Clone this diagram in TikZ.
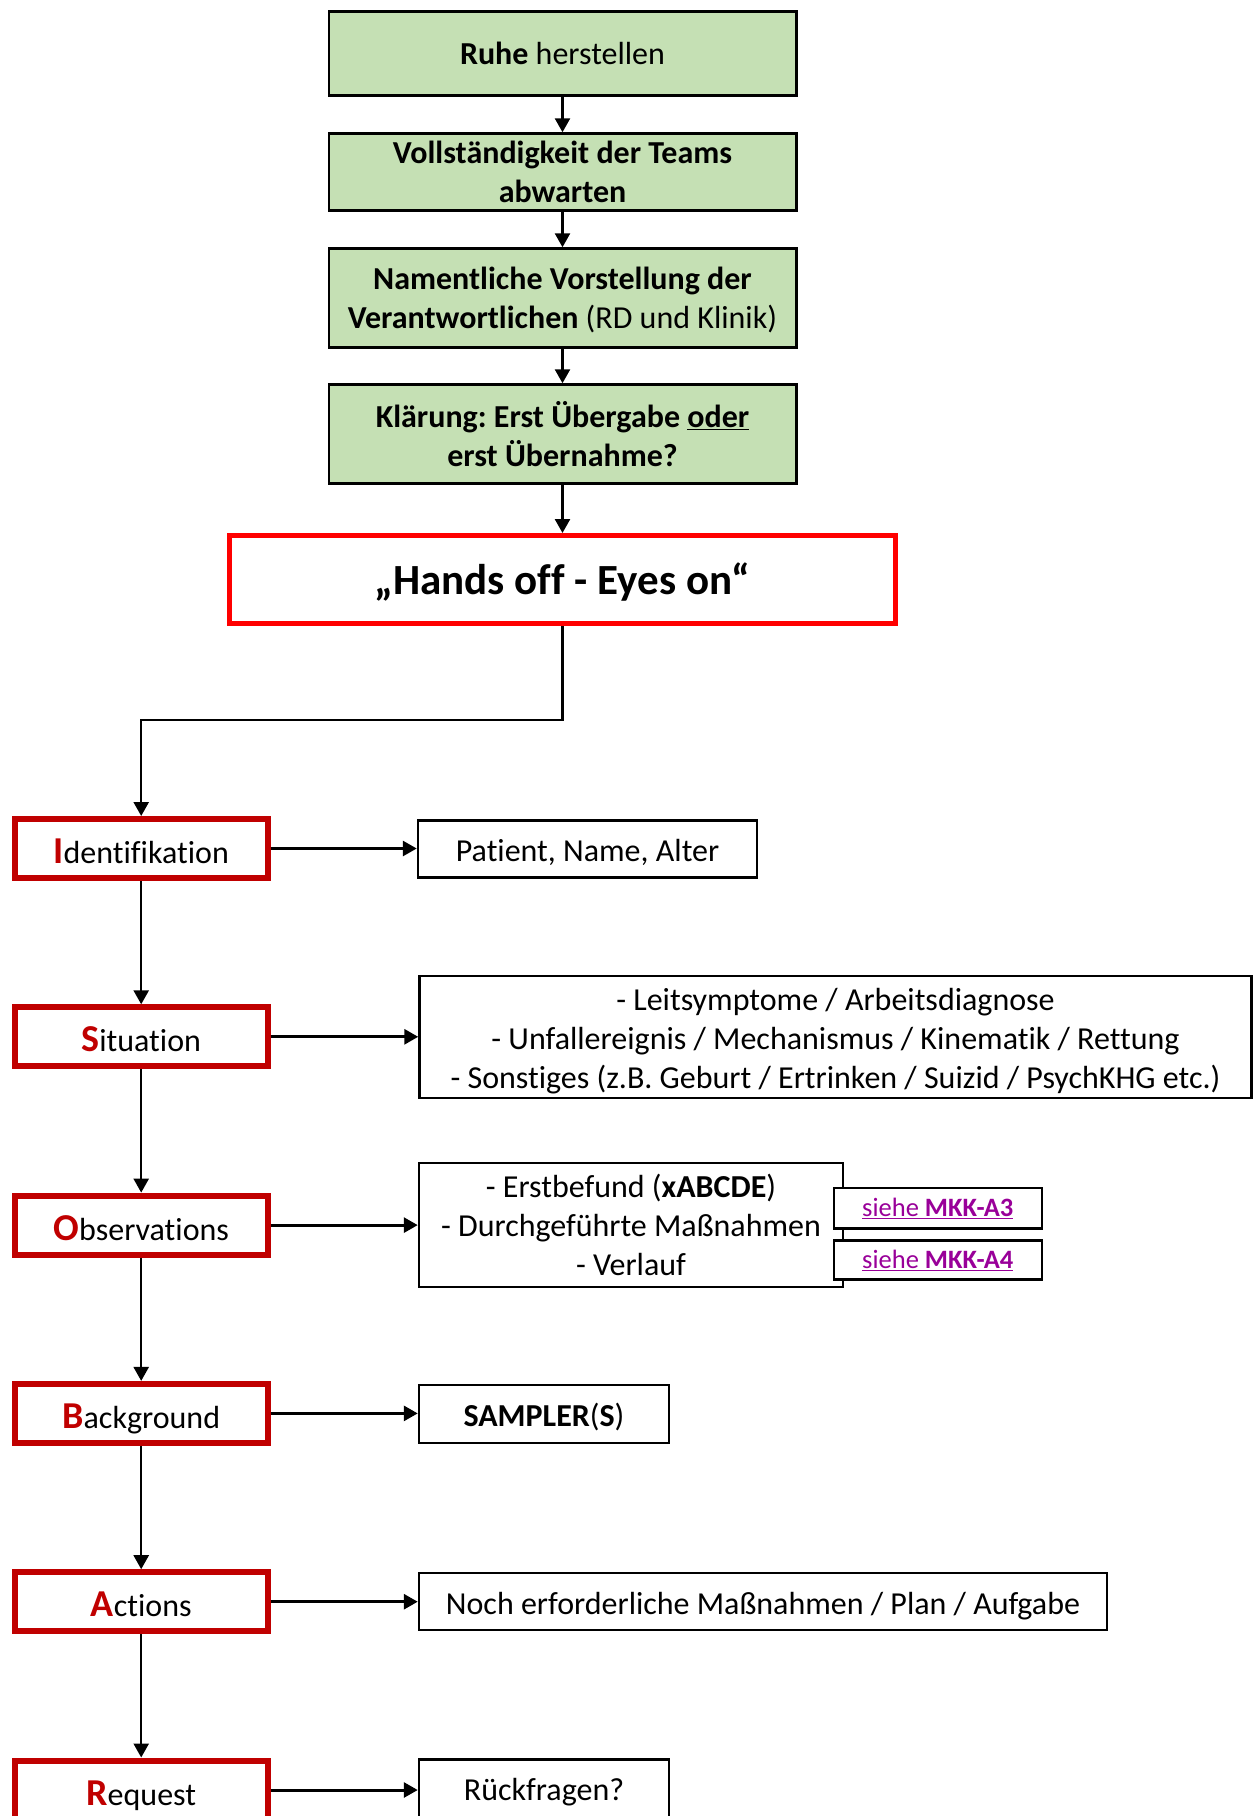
\documentclass[tikz,border=0pt]{standalone}
\usepackage{fontspec}
\setmainfont{Carlito}[Ligatures={NoCommon}]
\usetikzlibrary{arrows.meta}
\definecolor{boxgreen}{HTML}{C5E0B4}
\definecolor{sbarred}{HTML}{C00000}
\definecolor{hored}{HTML}{FF0000}
\definecolor{linkpurple}{HTML}{990099}
\newcommand{\firstletter}[1]{{\fontsize{38}{40}\selectfont\bfseries\color{sbarred}#1}}
\begin{document}
\frenchspacing
\begin{tikzpicture}[x=1pt,y=-1pt,
  font=\fontsize{32}{39}\selectfont,
  greenbox/.style={draw=black, line width=2.5pt, fill=boxgreen, minimum width=467.5pt, inner sep=0pt, align=center},
  handsbox/.style={draw=hored, line width=5pt, fill=white, minimum width=666pt, minimum height=88pt, inner sep=0pt, text height=30pt, text depth=0pt, font=\fontsize{43}{48}\selectfont\bfseries},
  sbarbox/.style={draw=sbarred, line width=6pt, fill=white, minimum width=253pt, minimum height=59pt, inner sep=0pt, text height=30pt, text depth=0pt},
  infobox/.style={draw=black, line width=2.5pt, fill=white, inner sep=0pt, align=center},
  plaintext/.style={inner sep=0pt, align=center},
  oneline/.style={text height=25pt, text depth=0pt},
  linkbox/.style={infobox, minimum width=208pt, font=\fontsize{26.5}{30}\selectfont\color{linkpurple}},
  conn/.style={draw=black, line width=2.5pt, -{Triangle[length=14pt,width=15pt]}},
  hconn/.style={conn, line width=3pt}
]
\useasboundingbox (0,0) rectangle (1254,1816);
\clip (0,0) rectangle (1254,1816);

% top chain
\node[greenbox, minimum height=84pt] (b1) at (562.5,53.5) {\textbf{Ruhe} herstellen};
\node[greenbox, minimum height=77pt] (b2) at (562.5,172) {\textbf{Vollständigkeit der Teams}\\\textbf{abwarten}};
\node[greenbox, minimum height=99pt] (b3) at (562.5,298) {};
\node[plaintext] (b3t) at ([yshift=-2pt]b3.center) {\textbf{Namentliche Vorstellung der}\\\textbf{Verantwortlichen} (RD und Klinik)};
\node[greenbox, minimum height=99pt] (b4) at (562.5,434) {\textbf{Klärung: Erst Übergabe \underline{oder}}\\\textbf{erst Übernahme?}};
\node[handsbox] (ho) at (562.5,579.5) {„Hands off - Eyes on“};

\draw[conn] (b1.south) -- (b2.north);
\draw[conn] (b2.south) -- (b3.north);
\draw[conn] (b3.south) -- (b4.north);
\draw[conn] (b4.south) -- (ho.north);

% ISOBAR column
\node[sbarbox] (sI) at (141.2,848.5) {\firstletter{I}dentifikation};
\node[sbarbox] (sS) at (141.2,1036.8) {\firstletter{S}ituation};
\node[sbarbox] (sO) at (141.2,1225.1) {\firstletter{O}bservations};
\node[sbarbox] (sB) at (141.2,1413.4) {\firstletter{B}ackground};
\node[sbarbox] (sA) at (141.2,1601.7) {\firstletter{A}ctions};
\node[sbarbox] (sR) at (141.2,1790.0) {\firstletter{R}equest};

\coordinate (j1) at (562.5,720);
\coordinate (j2) at (141.2,720);
\draw[conn] (ho.south) -- (j1) -- (j2) -- (sI.north);
\draw[conn] (sI.south) -- (sS.north);
\draw[conn] (sS.south) -- (sO.north);
\draw[conn] (sO.south) -- (sB.north);
\draw[conn] (sB.south) -- (sA.north);
\draw[conn] (sA.south) -- (sR.north);

% right column
\node[infobox, oneline, minimum width=339pt, minimum height=57pt] (pat) at (587.5,849) {Patient, Name, Alter};
\node[infobox, minimum width=832pt, minimum height=121.6pt] (sit) at (835.5,1037) {};
\node[plaintext] (sitt) at ([yshift=-4pt]sit.center) {- Leitsymptome / Arbeitsdiagnose\\- Unfallereignis / Mechanismus / Kinematik / Rettung\\- Sonstiges (z.B. Geburt / Ertrinken / Suizid / PsychKHG etc.)};
\node[infobox, minimum width=424pt, minimum height=124pt] (obs) at (631,1225) {- Erstbefund (\textbf{xABCDE})\\- Durchgeführte Maßnahmen\\- Verlauf};
\node[linkbox, minimum height=40.7pt] (a3) at (937.8,1208.3) {\underline{siehe \textbf{MKK-A3}}};
\node[linkbox, minimum height=39.4pt] (a4) at (937.8,1260) {\underline{siehe \textbf{MKK-A4}}};
\node[infobox, oneline, minimum width=250pt, minimum height=58pt] (smp) at (544,1414) {\textbf{SAMPLER}(\textbf{S})};
\node[infobox, oneline, minimum width=688pt, minimum height=57pt] (noch) at (763,1601.5) {Noch erforderliche Maßnahmen / Plan / Aufgabe};
\node[infobox, oneline, minimum width=250pt, minimum height=58pt] (rf) at (544,1788.3) {Rückfragen?};

\draw[hconn] (sI.east) -- (sI.east -| pat.west);
\draw[hconn] (sS.east) -- (sS.east -| sit.west);
\draw[hconn] (sO.east) -- (sO.east -| obs.west);
\draw[hconn] (sB.east) -- (sB.east -| smp.west);
\draw[hconn] (sA.east) -- (sA.east -| noch.west);
\draw[hconn] (sR.east) -- (sR.east -| rf.west);
\end{tikzpicture}
\end{document}
